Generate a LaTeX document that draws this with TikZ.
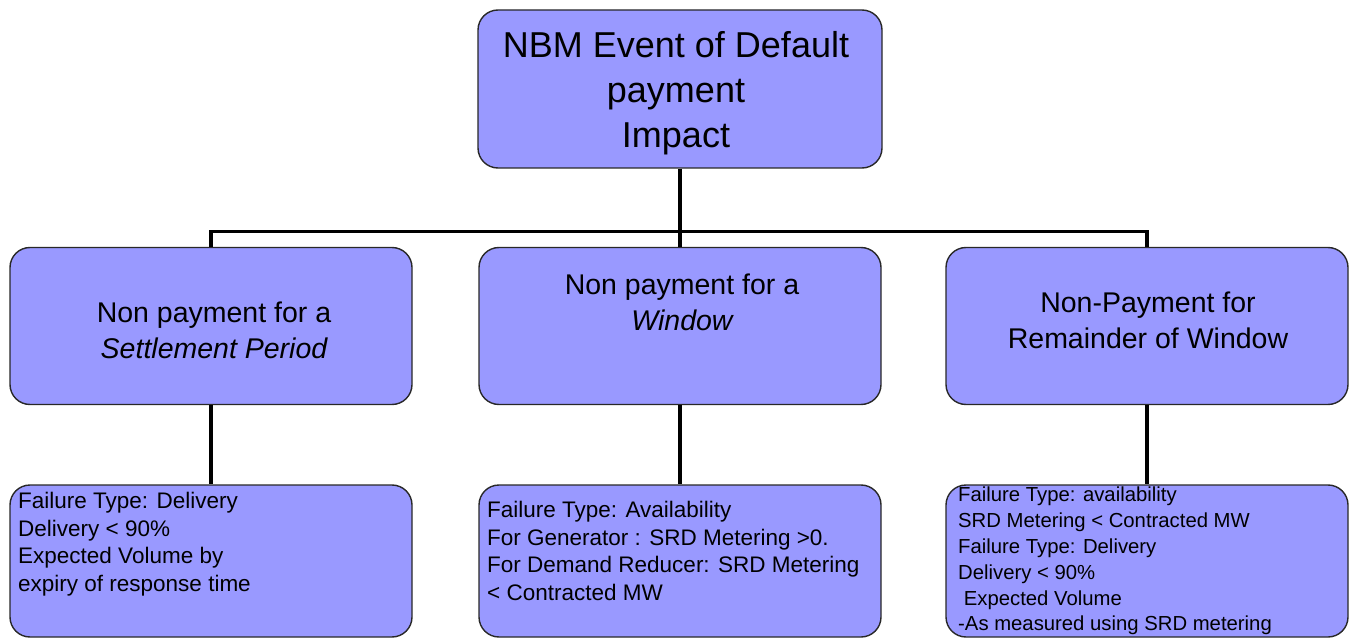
\documentclass[tikz,border=0pt]{standalone}
\usepackage{fontspec}
\setmainfont{Liberation Sans}
\definecolor{boxblue}{RGB}{153,153,255}
\definecolor{edge}{RGB}{40,40,40}
\begin{document}
\begin{tikzpicture}[x=1pt,y=-1pt,
  box/.style={draw=edge,line width=1.4pt,fill=boxblue,rounded corners=20pt,inner sep=0pt},
  link/.style={line width=3.2pt,black},
  toptext/.style={font=\fontsize{36}{45}\selectfont,align=center,inner sep=0pt},
  midtext/.style={font=\fontsize{28.5}{36}\selectfont,align=center,inner sep=0pt},
  lowtext/.style={font=\fontsize{22.5}{27.5}\selectfont,align=left,inner sep=0pt,anchor=north west},
  rtext/.style={font=\fontsize{20.3}{25.8}\selectfont,align=left,inner sep=0pt,anchor=north west}]
\useasboundingbox (0,0) rectangle (1350,639);
% boxes
\node[box,minimum width=404pt,minimum height=158pt] (top) at (680,89) {};
\node[box,minimum width=402pt,minimum height=157pt] (m1) at (211,326) {};
\node[box,minimum width=402pt,minimum height=157pt] (m2) at (680,326) {};
\node[box,minimum width=402pt,minimum height=157pt] (m3) at (1147,326) {};
\node[box,minimum width=402pt,minimum height=152pt] (b1) at (211,561) {};
\node[box,minimum width=402pt,minimum height=152pt] (b2) at (680,561) {};
\node[box,minimum width=402pt,minimum height=152pt] (b3) at (1147,561) {};
% connectors
\draw[link] (top.south) -- (m2.north);
\draw[link] (m1.north) -- ++(0,-15) -| (m3.north);
\draw[link] (m1.south) -- (b1.north);
\draw[link] (m2.south) -- (b2.north);
\draw[link] (m3.south) -- (b3.north);
% texts
\node[toptext] (toplabel) at (676,93) {NBM Event of Default\\payment\\ Impact};
\node[midtext] (m1label) at (214,330) {Non payment for a\\\itshape Settlement Period};
\node[midtext] (m2label) at (682,302) {Non payment for a\\\itshape Window};
\node[midtext] (m3label) at (1148,320) {Non-Payment for\\Remainder of Window};
\node[lowtext] (b1label) at (18,492) {Failure Type: Delivery\\Delivery < 90\%\\Expected Volume by\\expiry of response time};
\node[lowtext] (b2label) at (487,501) {Failure Type: Availability\\For Generator : SRD Metering >0.\\For Demand Reducer: SRD Metering\\< Contracted MW};
\node[rtext] (b3label) at (958,487) {Failure Type: availability\\SRD Metering < Contracted MW\\Failure Type: Delivery\\Delivery < 90\%\\\ Expected Volume\\-As measured using SRD metering};
\end{tikzpicture}
\end{document}
